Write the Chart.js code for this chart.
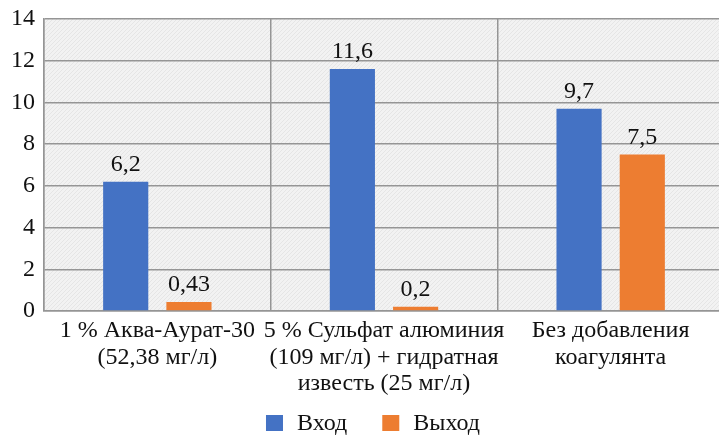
<!DOCTYPE html>
<html><head><meta charset="utf-8">
<script src="https://cdn.jsdelivr.net/npm/chart.js@4"></script>
<style>
html,body{margin:0;padding:0;background:#fff;overflow:hidden}
#wrap{width:719px;height:436px;overflow:hidden;position:relative}
canvas{display:block}
</style></head><body>
<div id="wrap"><canvas id="c" width="724" height="436"></canvas></div>
<script>
// Categories (multi-line axis labels)
const categories = [
  ["1 % Аква-Аурат-30", "(52,38 мг/л)"],
  ["5 % Сульфат алюминия", "(109 мг/л) + гидратная", "известь (25 мг/л)"],
  ["Без добавления", "коагулянта"]
];
const seriesNames = ["Вход", "Выход"];
const inletValues = [6.2, 11.6, 9.7];
const outletValues = [0.43, 0.2, 7.5];
const yMin = 0, yMax = 14, yStep = 2;

const SERIF = "'Liberation Serif', 'Times New Roman', serif";
const GRID = "#959595";
const TEXT = "#111";

// Light hatched fill for the plot area
function hatchPattern(ctx) {
  const p = document.createElement("canvas");
  p.width = 4; p.height = 4;
  const g = p.getContext("2d");
  g.fillStyle = "#f2f2f2";
  g.fillRect(0, 0, 4, 4);
  g.strokeStyle = "#e5e5e5";
  g.lineWidth = 1;
  g.beginPath();
  g.moveTo(0, 4); g.lineTo(4, 0);
  g.stroke();
  return ctx.createPattern(p, "repeat");
}

const plotBackground = {
  id: "plotBackground",
  beforeDraw(chart) {
    const { ctx, chartArea: a } = chart;
    ctx.save();
    ctx.fillStyle = hatchPattern(ctx);
    ctx.fillRect(a.left, a.top, a.right - a.left, a.bottom - a.top);
    ctx.restore();
  }
};

// Value labels above each bar, decimal comma
const valueLabels = {
  id: "valueLabels",
  afterDatasetsDraw(chart) {
    const { ctx } = chart;
    ctx.save();
    ctx.font = "24px " + SERIF;
    ctx.fillStyle = TEXT;
    ctx.textAlign = "center";
    ctx.textBaseline = "alphabetic";
    chart.data.datasets.forEach((ds, i) => {
      chart.getDatasetMeta(i).data.forEach((bar, j) => {
        const txt = String(ds.data[j]).replace(".", ",");
        ctx.fillText(txt, bar.x, bar.y - 11);
      });
    });
    ctx.restore();
  }
};

// Legend row under the axis labels: square swatch + series name
const bottomLegend = {
  id: "bottomLegend",
  afterDraw(chart) {
    const { ctx } = chart;
    const boxW = 17, boxH = 16, gapText = 14, gapItem = 35;
    const centerX = 373, midY = 423;
    ctx.save();
    ctx.font = "24px " + SERIF;
    const items = chart.data.datasets.map(ds => ({
      text: ds.label, color: ds.backgroundColor,
      w: boxW + gapText + ctx.measureText(ds.label).width
    }));
    const total = items.reduce((s, it) => s + it.w, 0) + gapItem * (items.length - 1);
    let x = centerX - total / 2;
    ctx.textBaseline = "middle";
    ctx.textAlign = "left";
    items.forEach(it => {
      ctx.fillStyle = it.color;
      ctx.fillRect(x, midY - boxH / 2, boxW, boxH);
      ctx.fillStyle = TEXT;
      ctx.fillText(it.text, x + boxW + gapText, midY + 1);
      x += it.w + gapItem;
    });
    ctx.restore();
  }
};

new Chart(document.getElementById("c"), {
  type: "bar",
  data: {
    labels: categories,
    datasets: [
      { label: seriesNames[0], data: inletValues, backgroundColor: "#4472C4" },
      { label: seriesNames[1], data: outletValues, backgroundColor: "#ED7D31" }
    ]
  },
  options: {
    responsive: false,
    animation: false,
    devicePixelRatio: 1,
    layout: { padding: { top: 19, left: 0, right: 0, bottom: 0 } },
    datasets: { bar: { categoryPercentage: 0.558, barPercentage: 0.714 } },
    scales: {
      x: {
        grid: { color: GRID, lineWidth: 1.5, offset: true, drawTicks: false },
        border: { color: GRID, width: 1.5 },
        ticks: {
          color: TEXT,
          font: { family: SERIF, size: 24, lineHeight: 1.1 },
          padding: 7,
          maxRotation: 0,
          autoSkip: false
        },
        afterFit(scale) { scale.height = 125; }
      },
      y: {
        min: yMin, max: yMax,
        grid: { color: GRID, lineWidth: 1.5, drawTicks: false },
        border: { color: GRID, width: 1.5 },
        ticks: {
          stepSize: yStep,
          color: TEXT,
          font: { family: SERIF, size: 24, lineHeight: 0.8 },
          padding: 9
        },
        afterFit(scale) { scale.width = 44; }
      }
    },
    plugins: {
      legend: { display: false },
      tooltip: { enabled: false }
    }
  },
  plugins: [plotBackground, valueLabels, bottomLegend]
});
</script>
</body></html>
